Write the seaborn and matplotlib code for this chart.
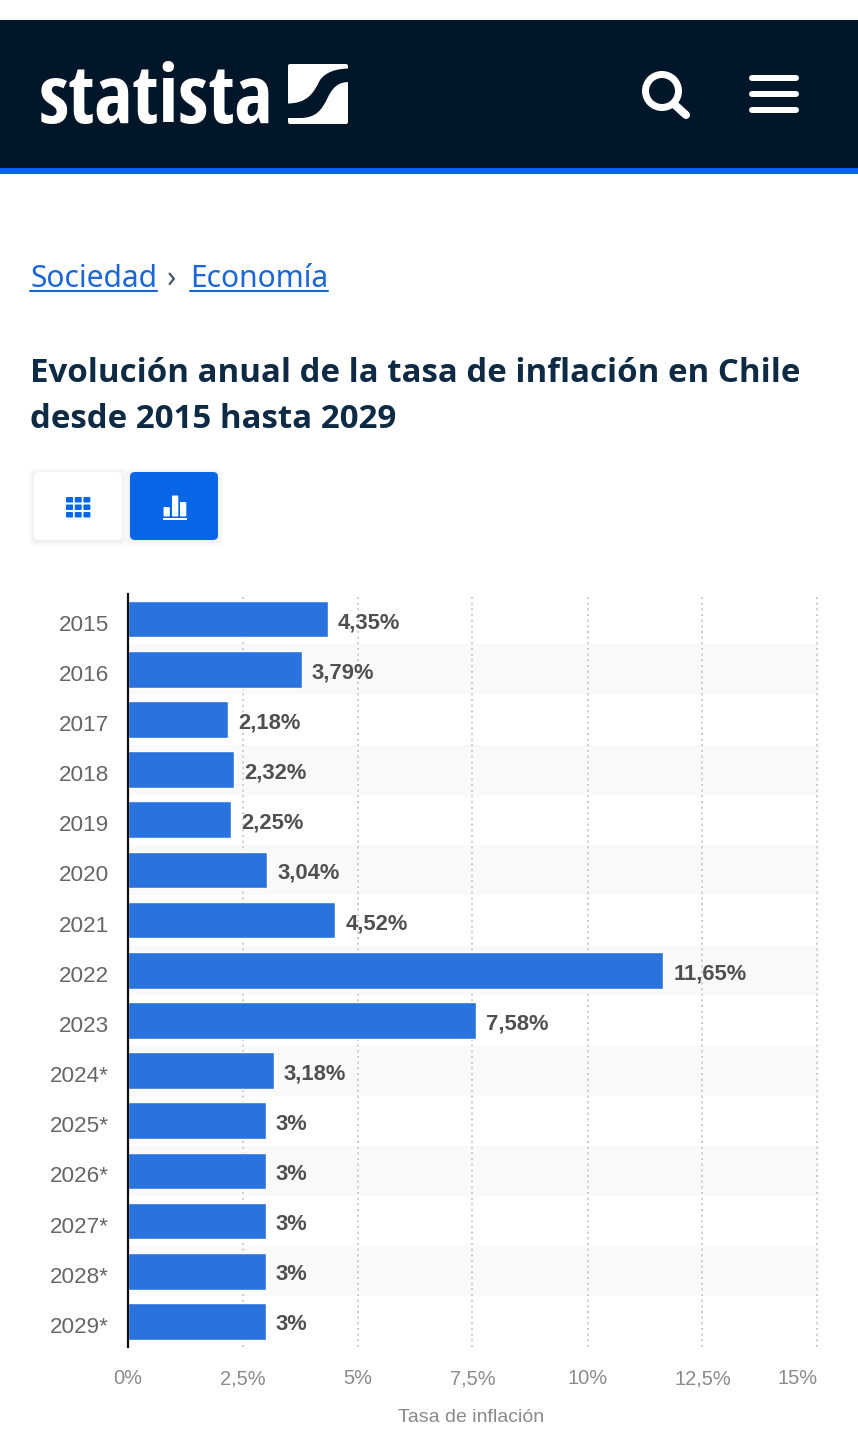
import numpy as np
import pandas as pd
import matplotlib
matplotlib.use("Agg")
import matplotlib.pyplot as plt
from matplotlib.patches import Rectangle, FancyBboxPatch, Circle, PathPatch
from matplotlib.path import Path
from matplotlib.transforms import offset_copy
import seaborn as sns

years = ["2015", "2016", "2017", "2018", "2019", "2020", "2021", "2022", "2023",
         "2024*", "2025*", "2026*", "2027*", "2028*", "2029*"]
rates = [4.35, 3.79, 2.18, 2.32, 2.25, 3.04, 4.52, 11.65, 7.58, 3.18, 3, 3, 3, 3, 3]
value_labels = ["4,35%", "3,79%", "2,18%", "2,32%", "2,25%", "3,04%", "4,52%", "11,65%",
                "7,58%", "3,18%", "3%", "3%", "3%", "3%", "3%"]
x_ticks = [0, 2.5, 5, 7.5, 10, 12.5, 15]
x_tick_labels = ["0%", "2,5%", "5%", "7,5%", "10%", "12,5%", "15%"]
x_title = "Tasa de inflación"
page_title = ["Evolución anual de la tasa de inflación en Chile", "desde 2015 hasta 2029"]

W, H = 858, 1440
sns.set_theme(style="white")
plt.rcParams["font.family"] = ["Liberation Sans", "DejaVu Sans"]
fig = plt.figure(figsize=(W / 100, H / 100), dpi=100, facecolor="white")

PX = 0.72  # points per pixel at dpi 100

# Page chrome in pixel coordinates
bg = fig.add_axes([0, 0, 1, 1], zorder=0)
bg.set_xlim(0, W)
bg.set_ylim(H, 0)
bg.axis("off")
NAVY = "#021629"
BLUE = "#0666e5"
bg.add_patch(Rectangle((0, 20), W, 148, fc=NAVY, ec="none"))
bg.add_patch(Rectangle((0, 168), W, 6, fc=BLUE, ec="none"))
bg.text(39, 123, "statista", color="white", fontsize=81 * PX, fontweight="bold",
        family=["Open Sans Condensed", "Roboto Condensed"], va="baseline", ha="left")

# logo square with S-shaped cut
bg.add_patch(FancyBboxPatch((288, 64), 60, 60, boxstyle="round,pad=0,rounding_size=2",
                            fc="white", ec="none"))
s_path = Path([(286, 103.5), (308, 104), (314, 92), (320, 80), (326, 72), (336, 68.5), (350, 68.5),
               (350, 82), (340, 82), (334, 85), (328, 97), (322, 110), (316, 118), (300, 118),
               (286, 118), (286, 103.5)],
              [Path.MOVETO, Path.CURVE4, Path.CURVE4, Path.CURVE4, Path.CURVE4, Path.CURVE4, Path.CURVE4,
               Path.LINETO, Path.CURVE4, Path.CURVE4, Path.CURVE4, Path.CURVE4, Path.CURVE4, Path.CURVE4,
               Path.LINETO, Path.CLOSEPOLY])
bg.add_patch(PathPatch(s_path, fc=NAVY, ec="none"))

# search icon
bg.add_patch(Circle((662, 91), 16.5, fc="none", ec="white", lw=7 * PX))
bg.plot([675, 686], [105, 115], color="white", lw=8 * PX, solid_capstyle="round")
# menu icon
for y in (78, 94, 110):
    bg.plot([752, 796], [y, y], color="white", lw=6 * PX, solid_capstyle="round")

# breadcrumb
LINK = "#1a66d6"
crumb = dict(fontsize=30 * PX, family=["Noto Sans", "DejaVu Sans"], va="baseline")
bg.text(30, 287, "Sociedad", color=LINK, **crumb)
bg.plot([30, 157], [291, 291], color=LINK, lw=1.5)
bg.text(167, 287, "›", color="#445566", **crumb)
bg.text(190, 287, "Economía", color=LINK, **crumb)
bg.plot([190, 328], [291, 291], color=LINK, lw=1.5)

# title
for y, line in zip((382, 428), page_title):
    bg.text(30, y, line, color="#0f2a44", fontsize=33 * PX, fontweight="bold",
            family=["Open Sans", "DejaVu Sans"], va="baseline")

# view-toggle buttons with a soft shadow
for x0 in (34, 130):
    for grow in (5, 4, 3, 2, 1):
        bg.add_patch(FancyBboxPatch((x0 - grow, 472 - grow + 1), 88 + 2 * grow, 68 + 2 * grow,
                                    boxstyle="round,pad=0,rounding_size=6",
                                    fc="#000000", alpha=0.012, ec="none"))
bg.add_patch(FancyBboxPatch((34, 472), 88, 68, boxstyle="round,pad=0,rounding_size=5",
                            fc="white", ec="none"))
bg.add_patch(FancyBboxPatch((130, 472), 88, 68, boxstyle="round,pad=0,rounding_size=5",
                            fc=BLUE, ec="none"))
for gx in (66, 74.7, 83.4):
    for gy in (497, 504.5, 512):
        bg.add_patch(FancyBboxPatch((gx, gy), 7, 5.5, boxstyle="round,pad=0,rounding_size=1",
                                    fc=BLUE, ec="none"))
for bx, by, bh in ((163.5, 507, 9.5), (172, 495.5, 21), (180, 502, 14.5)):
    bg.add_patch(FancyBboxPatch((bx, by), 6.3, bh, boxstyle="round,pad=0,rounding_size=1",
                                fc="white", ec="none"))
bg.add_patch(Rectangle((163, 518), 24, 2, fc="white", ec="none"))

# Chart
SCALE = 46.0
AX_L, AX_T, AX_B = 127.5, 594, 1346.5
xmax = 15.04
ax = fig.add_axes([AX_L / W, 1 - AX_B / H, xmax * SCALE / W, (AX_B - AX_T) / H], zorder=1)
ax.patch.set_alpha(0)

df = pd.DataFrame({"year": years, "rate": rates})
for i in range(1, len(years), 2):
    ax.axhspan(i - 0.5, i + 0.5, color="#f9f9f9", lw=0, zorder=0)

sns.barplot(data=df, y="year", x="rate", orient="h", color="#2a73de", saturation=1,
            width=0.73, ax=ax, zorder=3)

for spine in ("top", "right", "bottom"):
    ax.spines[spine].set_visible(False)
ax.spines["left"].set_color("#111111")
ax.spines["left"].set_linewidth(1.6)
ax.spines["left"].set_zorder(5)

ax.set_xlim(0, xmax)
ax.set_ylim(len(years) - 0.5, -0.5)
ax.set_xticks(x_ticks)
ax.set_xticklabels(x_tick_labels)
ax.xaxis.grid(True, color="#c4c4c4", lw=1.2, ls=(0, (1.2, 2.2)), zorder=1)
ax.set_axisbelow(True)
ax.yaxis.grid(False)
ax.tick_params(axis="x", length=0, pad=16.5, labelsize=20 * PX, labelcolor="#8a8a8a")
ax.tick_params(axis="y", length=0, pad=13.5, labelsize=22.5 * PX, labelcolor="#666666")
ax.get_xticklabels()[-1].set_horizontalalignment("right")
for lab in ax.get_yticklabels():
    lab.set_transform(offset_copy(lab.get_transform(), fig=fig, y=-3.5, units="dots"))
ax.set_ylabel("")
ax.set_xlabel(x_title, fontsize=19.5 * PX, color="#8a8a8a")
ax.xaxis.set_label_coords(344 / (xmax * SCALE), -62 / (AX_B - AX_T))

for i, (v, lab) in enumerate(zip(rates, value_labels)):
    ax.annotate(lab, (v, i), xytext=(10 * PX, -3.5 * PX), textcoords="offset points",
                va="center", ha="left", fontsize=22 * PX, fontweight="bold",
                color="#505050", zorder=6)

fig.savefig("out.png", dpi=100, facecolor="white")
